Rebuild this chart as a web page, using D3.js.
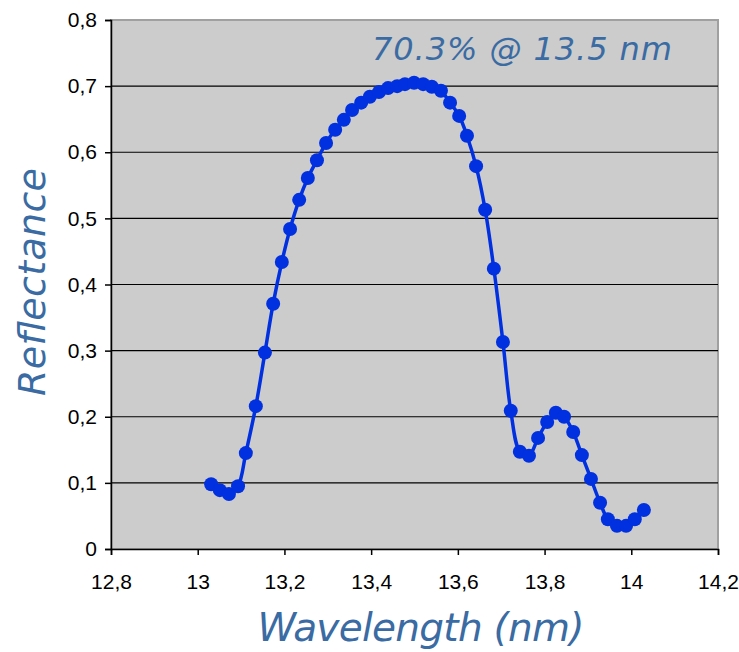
<!DOCTYPE html>
<html>
<head>
<meta charset="utf-8">
<script src="https://cdn.jsdelivr.net/npm/d3@7"></script>
<style>
  body { margin: 0; background: #fff; }
  svg { display: block; }
</style>
</head>
<body>
<script>
// Data
var wavelength = [13.031, 13.051, 13.072, 13.093, 13.111, 13.134, 13.155, 13.174, 13.194, 13.213,
  13.234, 13.254, 13.275, 13.296, 13.317, 13.337, 13.356, 13.377, 13.397, 13.418,
  13.439, 13.460, 13.478, 13.499, 13.520, 13.540, 13.561, 13.582, 13.603, 13.621,
  13.642, 13.663, 13.683, 13.704, 13.722, 13.743, 13.764, 13.785, 13.806, 13.826,
  13.845, 13.866, 13.886, 13.907, 13.928, 13.946, 13.967, 13.988, 14.008, 14.029];
var reflectance = [0.098, 0.089, 0.083, 0.095, 0.145, 0.216, 0.297, 0.371, 0.434, 0.484,
  0.528, 0.561, 0.588, 0.614, 0.634, 0.649, 0.664, 0.675, 0.684, 0.691,
  0.697, 0.700, 0.703, 0.705, 0.703, 0.699, 0.693, 0.675, 0.655, 0.625,
  0.579, 0.513, 0.424, 0.313, 0.209, 0.147, 0.141, 0.168, 0.192, 0.206,
  0.200, 0.177, 0.142, 0.106, 0.070, 0.045, 0.035, 0.035, 0.045, 0.059];
var xTicks = [12.8, 13, 13.2, 13.4, 13.6, 13.8, 14, 14.2];
var yTicks = [0, 0.1, 0.2, 0.3, 0.4, 0.5, 0.6, 0.7, 0.8];

var svgWidth = 739;
var svgHeight = 652;

var chartMargin = { top: 20, right: 21, bottom: 103, left: 111 };
var chartWidth = svgWidth - chartMargin.left - chartMargin.right;
var chartHeight = svgHeight - chartMargin.top - chartMargin.bottom;

var data = wavelength.map((w, i) => ({ x: w, y: reflectance[i] }));

var svg = d3.select("body")
  .append("svg")
  .attr("width", svgWidth)
  .attr("height", svgHeight);

var chartGroup = svg.append("g")
  .attr("transform", `translate(${chartMargin.left}, ${chartMargin.top})`);

var xScale = d3.scaleLinear().domain([12.8, 14.2]).range([0, chartWidth]);
var yScale = d3.scaleLinear().domain([0, 0.8]).range([chartHeight, 0]);

var fmt = d => d3.format("")(+d.toFixed(1)).replace(".", ",");

// plot background
chartGroup.append("rect")
  .attr("width", chartWidth)
  .attr("height", chartHeight)
  .attr("fill", "#cccccc")
  .attr("stroke", "#a0a0a0")
  .attr("stroke-width", 2);

// gridlines
chartGroup.selectAll(".grid")
  .data(yTicks.slice(1, -1))
  .enter()
  .append("line")
  .attr("x1", 0)
  .attr("x2", chartWidth)
  .attr("y1", d => yScale(d))
  .attr("y2", d => yScale(d))
  .attr("stroke", "#000")
  .attr("stroke-width", 1.2);

// axes
var leftAxis = d3.axisLeft(yScale).tickValues(yTicks).tickFormat(fmt).tickSizeOuter(0).tickSize(6).tickPadding(8);
var bottomAxis = d3.axisBottom(xScale).tickValues(xTicks).tickFormat(fmt).tickSizeOuter(0).tickSize(6).tickPadding(19);

var yAxisG = chartGroup.append("g").call(leftAxis);
var xAxisG = chartGroup.append("g")
  .attr("transform", `translate(0, ${chartHeight})`)
  .call(bottomAxis);

[yAxisG, xAxisG].forEach(g => {
  g.selectAll("path").attr("stroke", "#000").attr("stroke-width", 1.5);
  g.selectAll("line").attr("stroke", "#000").attr("stroke-width", 1.5);
  g.selectAll("text")
    .attr("font-family", "Liberation Sans, Arial, sans-serif")
    .attr("font-size", 21)
    .attr("fill", "#000");
});

// smoothed line
var line = d3.line()
  .x(d => xScale(d.x))
  .y(d => yScale(d.y))
  .curve(d3.curveCatmullRom);

chartGroup.append("path")
  .datum(data)
  .attr("d", line)
  .attr("fill", "none")
  .attr("stroke", "#0030e0")
  .attr("stroke-width", 3.5);

chartGroup.selectAll(".dot")
  .data(data)
  .enter()
  .append("circle")
  .attr("class", "dot")
  .attr("cx", d => xScale(d.x))
  .attr("cy", d => yScale(d.y))
  .attr("r", 7)
  .attr("fill", "#0030e0");

// annotation
svg.append("text")
  .attr("x", 372)
  .attr("y", 60)
  .attr("textLength", 300)
  .attr("font-family", "DejaVu Sans, Verdana, sans-serif")
  .attr("font-style", "italic")
  .attr("font-size", 32)
  .attr("fill", "#3a6ba3")
  .text("70.3% @ 13.5 nm");

// axis titles
svg.append("text")
  .attr("transform", "translate(45, 282) rotate(-90)")
  .attr("text-anchor", "middle")
  .attr("textLength", 228)
  .attr("font-family", "DejaVu Sans, Verdana, sans-serif")
  .attr("font-style", "italic")
  .attr("font-size", 38)
  .attr("fill", "#3a6ba3")
  .text("Reflectance");

svg.append("text")
  .attr("x", 421)
  .attr("y", 641)
  .attr("text-anchor", "middle")
  .attr("textLength", 327)
  .attr("font-family", "DejaVu Sans, Verdana, sans-serif")
  .attr("font-style", "italic")
  .attr("font-size", 39)
  .attr("fill", "#3a6ba3")
  .text("Wavelength (nm)");
</script>
</body>
</html>
